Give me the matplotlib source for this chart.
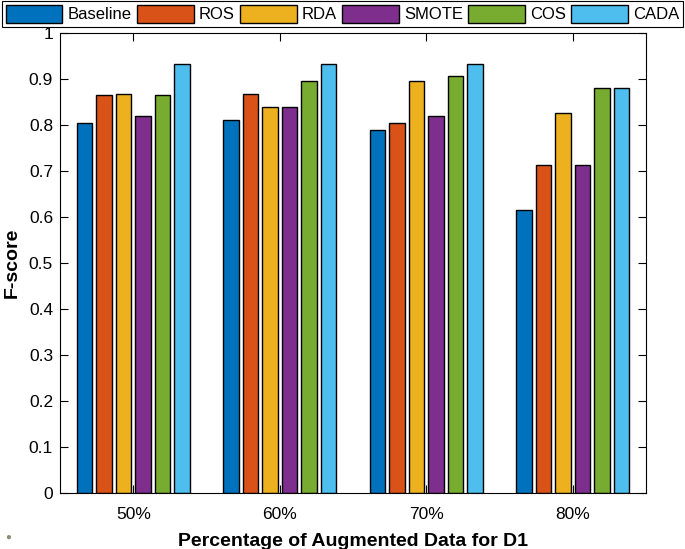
import matplotlib.pyplot as plt
import numpy as np

plt.rcParams['font.family'] = ['Liberation Sans', 'DejaVu Sans']

groups = ['50%', '60%', '70%', '80%']
methods = ['Baseline', 'ROS', 'RDA', 'SMOTE', 'COS', 'CADA']
colors = ['#0072BD', '#D95319', '#EDB120', '#7E2F8E', '#77AC30', '#4DBEEE']

baseline = [0.805, 0.810, 0.790, 0.615]
ros = [0.865, 0.868, 0.805, 0.712]
rda = [0.868, 0.840, 0.895, 0.825]
smote = [0.820, 0.840, 0.820, 0.712]
cos = [0.865, 0.895, 0.907, 0.880]
cada = [0.932, 0.932, 0.932, 0.880]
scores = [baseline, ros, rda, smote, cos, cada]

fig = plt.figure(figsize=(6.85, 5.49), dpi=100)
ax = fig.add_axes([0.0876, 0.102, 0.8554, 0.838])

x = np.arange(1, len(groups) + 1)
pitch = 0.8 / len(methods)
for i, (name, vals) in enumerate(zip(methods, scores)):
    offs = (i - (len(methods) - 1) / 2) * pitch
    ax.bar(x + offs, vals, width=pitch * 0.8, color=colors[i],
           edgecolor='black', linewidth=1, label=name)

ax.set_xlim(0.5, 4.5)
ax.set_ylim(0, 1)
ax.set_xticks(x)
ax.set_xticklabels(groups, fontsize=12.5)
yt = np.round(np.arange(0, 1.01, 0.1), 1)
ax.set_yticks(yt)
ax.set_yticklabels(['0' if v == 0 else ('1' if v == 1 else f'{v:g}') for v in yt], fontsize=12.5)
ax.tick_params(direction='in', top=True, right=True, length=5.5, width=0.8, pad=5)
ax.tick_params(axis='x', pad=10)
for s in ax.spines.values():
    s.set_linewidth(0.8)

ax.set_ylabel('F-score', fontsize=14, fontweight='bold', labelpad=6)
ax.set_xlabel('Percentage of Augmented Data for D1', fontsize=14, fontweight='bold', labelpad=8)

leg = fig.legend(loc='upper left', bbox_to_anchor=(0.003, 0.948, 0.994, 0.05),
                 mode='expand', ncol=6, fontsize=12, handlelength=3.4,
                 handleheight=1.3, handletextpad=0.3, columnspacing=0.5,
                 borderpad=0.22, borderaxespad=0, fancybox=False,
                 edgecolor='black', framealpha=1)
leg.get_frame().set_linewidth(0.8)

fig.text(0.012, 0.022, '\u25cf', color='#8c8c74', fontsize=7, ha='center', va='center')

fig.savefig('out.png', dpi=100)
